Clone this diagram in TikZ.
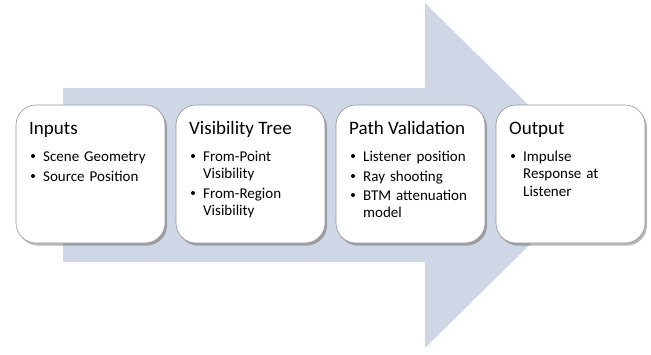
\documentclass[tikz,border=0pt]{standalone}
\usepackage{fontspec}
\setmainfont{Carlito}
\usetikzlibrary{shadows}
\definecolor{arrowfill}{RGB}{207,214,229}
\definecolor{boxline}{RGB}{150,150,150}
\tikzset{
  stage/.style={draw=boxline, line width=0.6pt, fill=white, rounded corners=20pt,
    minimum width=149pt, minimum height=138pt, inner sep=0pt,
    drop shadow={shadow xshift=2pt, shadow yshift=-2.5pt, opacity=0.4, fill=black!70}},
  stitle/.style={anchor=base west, inner sep=0pt, font=\fontsize{19}{22}\selectfont},
  sitem/.style={anchor=base west, inner sep=0pt, text width=107pt, align=left,
    font=\fontsize{15}{17.7}\selectfont,
    execute at begin node={\hyphenpenalty=10000\exhyphenpenalty=10000}},
  sdot/.style={circle, fill=black, inner sep=0pt, minimum size=4pt}
}
\begin{document}
\begin{tikzpicture}[x=1pt,y=-1pt]
\useasboundingbox (0,0) rectangle (651,354);
% big arrow
\fill[arrowfill] (63,88) -- (425,88) -- (425,3) -- (600,175.5) -- (425,348) -- (425,262) -- (63,262) -- cycle;
% boxes
\node[stage] (b1) at (90.5,174) {};
\node[stage] (b2) at (250.5,174) {};
\node[stage] (b3) at (410.5,174) {};
\node[stage] (b4) at (570.5,174) {};
% box 1
\node[stitle] (t1) at (29,134) {Inputs};
\node[sdot] (d11) at (33,156) {};
\node[sitem] (i11) at (43,161) {Scene Geometry};
\node[sdot] (d12) at (33,176) {};
\node[sitem] (i12) at (43,181) {Source Position};
% box 2
\node[stitle] (t2) at (189,134) {Visibility Tree};
\node[sdot] (d21) at (193,156) {};
\node[sitem] (i21) at (203,161) {From-Point Visibility};
\node[sdot] (d22) at (193,193) {};
\node[sitem] (i22) at (203,198) {From-Region Visibility};
% box 3
\node[stitle] (t3) at (349,134) {Path Validation};
\node[sdot] (d31) at (353,156) {};
\node[sitem] (i31) at (363,161) {Listener position};
\node[sdot] (d32) at (353,176) {};
\node[sitem] (i32) at (363,181) {Ray shooting};
\node[sdot] (d33) at (353,195) {};
\node[sitem] (i33) at (363,200) {BTM attenuation model};
% box 4
\node[stitle] (t4) at (509,134) {Output};
\node[sdot] (d41) at (513,156) {};
\node[sitem] (i41) at (523,161) {Impulse Response at Listener};
\end{tikzpicture}
\end{document}
